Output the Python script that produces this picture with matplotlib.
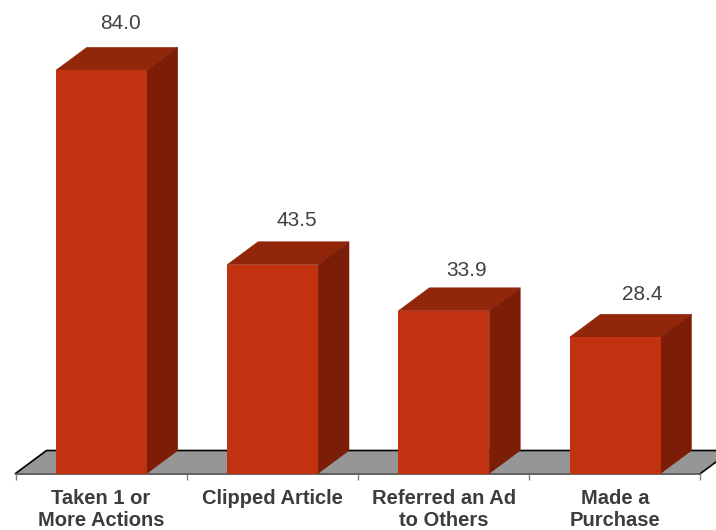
import matplotlib
matplotlib.use("Agg")
import matplotlib.pyplot as plt
from matplotlib.patches import Polygon, Rectangle

plt.rcParams["font.family"] = ["Liberation Sans", "DejaVu Sans"]

labels = ["Taken 1 or\nMore Actions", "Clipped Article", "Referred an Ad\nto Others", "Made a\nPurchase"]
values = [84.0, 43.5, 33.9, 28.4]

W, H = 716, 530
LEFT, RIGHT, BASE = 15.5, 700.5, 473.5
PX_PER_VAL = 4.8
PX_PER_CAT = (RIGHT - LEFT) / len(values)

# size of the fake 3d depth, in data units
dx = 31 / PX_PER_CAT
dy = 23 / PX_PER_VAL
bar_w = 91 / PX_PER_CAT

fig = plt.figure(figsize=(W / 100, H / 100), dpi=100)
ax = fig.add_axes([LEFT / W, (H - BASE) / H, (RIGHT - LEFT) / W, BASE / H])
ax.set_xlim(0, len(values))
ax.set_ylim(0, BASE / PX_PER_VAL)
for s in ax.spines.values():
    s.set_visible(False)
ax.patch.set_visible(False)

# floor
n = len(values)
ax.add_patch(Polygon([(0, 0), (n, 0), (n + dx, dy), (dx, dy)], closed=True,
                     fc="#969696", ec="none", clip_on=False, zorder=1))
ax.plot([0, dx, n + dx], [0, dy, dy], color="black", lw=1.2, clip_on=False, zorder=2)
ax.plot([n, n + dx], [0, dy], color="black", lw=1.2, clip_on=False, zorder=2)
ax.plot([0, n], [0, 0], color="#555555", lw=1.3, clip_on=False, zorder=2)

# value label shift from the bar centre, in pixels
label_dx = [19.5, 24.5, 22.5, 27]
label_dy = [47, 44, 40, 43]

for i, v in enumerate(values):
    x0 = i + 0.5 - bar_w / 2 + 0.001
    x1 = x0 + bar_w
    ax.add_patch(Polygon([(x0, v), (x1, v), (x1 + dx, v + dy), (x0 + dx, v + dy)], closed=True,
                         fc="#92260A", ec="#92260A", lw=0.3, clip_on=False, zorder=3))
    ax.add_patch(Polygon([(x1, 0), (x1 + dx, dy), (x1 + dx, v + dy), (x1, v)], closed=True,
                         fc="#7C1E07", ec="#7C1E07", lw=0.3, clip_on=False, zorder=3))
    ax.add_patch(Rectangle((x0, 0), bar_w, v, fc="#C33210", ec="none", clip_on=False, zorder=4))
    ax.annotate(f"{v:.1f}", (i + 0.5, v), xytext=(label_dx[i] * 0.72, label_dy[i] * 0.72),
                textcoords="offset points", ha="center", va="center",
                fontsize=15, color="#404040")

ax.set_yticks([])
ax.set_xticks(range(n + 1))
ax.set_xticklabels([])
ax.tick_params(axis="x", length=4, width=1, color="#808080")

for i, lab in enumerate(labels):
    ax.annotate(lab, (i + 0.5, 0), xytext=(0, -11.5), textcoords="offset points",
                ha="center", va="top", fontsize=14.5, fontweight="bold",
                color="#3c3c3c", linespacing=1.18, annotation_clip=False)

fig.savefig("out.png", dpi=100)
